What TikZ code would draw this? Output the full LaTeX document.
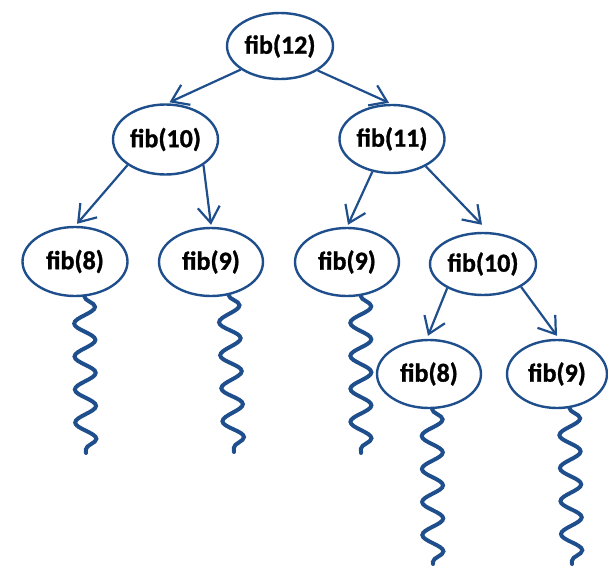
\documentclass[tikz,border=0pt]{standalone}
\usepackage{fontspec}
\setmainfont{Carlito}[BoldFeatures={FakeBold=1.2}]
\usetikzlibrary{shapes.geometric,arrows.meta,decorations.pathmorphing}
\definecolor{fibblue}{HTML}{1F4E8C}
\begin{document}
\begin{tikzpicture}[x=1pt,y=1pt,
  fibnode/.style={ellipse, draw=fibblue, line width=2.4pt, inner sep=0pt,
    font=\fontsize{26}{30}\selectfont\bfseries, text=black},
  callarrow/.style={draw=fibblue, line width=2.2pt,
    -{Straight Barb[length=16pt,width=22pt]}},
  squig/.style={draw=fibblue, line width=4pt, line cap=round, decorate,
    decoration={snake, amplitude=10.5pt, segment length=33pt}}]
\useasboundingbox (0,0) rectangle (608,-567);

% nodes
\node[fibnode, minimum width=106pt, minimum height=66pt] (n12)  at (280,-46)   {fib(12)};
\node[fibnode, minimum width=105pt, minimum height=70pt] (n10a) at (165.5,-139.5) {fib(10)};
\node[fibnode, minimum width=105pt, minimum height=68pt] (n11)  at (392,-139)  {fib(11)};
\node[fibnode, minimum width=105pt, minimum height=69pt] (n8a)  at (75,-261.5) {fib(8)};
\node[fibnode, minimum width=104pt, minimum height=68pt] (n9a)  at (211,-262)  {fib(9)};
\node[fibnode, minimum width=104pt, minimum height=68pt] (n9b)  at (347,-262)  {fib(9)};
\node[fibnode, minimum width=106pt, minimum height=62pt] (n10b) at (483,-264)  {fib(10)};
\node[fibnode, minimum width=104pt, minimum height=68pt] (n8b)  at (429,-374)  {fib(8)};
\node[fibnode, minimum width=100pt, minimum height=68pt] (n9c)  at (557,-374)  {fib(9)};

% call arrows
\draw[callarrow] (n12.211)  -- ([xshift=4pt,yshift=1pt]n10a.north);
\draw[callarrow] (n12.327)  -- ([xshift=-3pt,yshift=1pt]n11.north);
\draw[callarrow] (n10a.214) -- ([xshift=2pt,yshift=2pt]n8a.north);
\draw[callarrow] (n10a.326) -- ([yshift=2pt]n9a.north);
\draw[callarrow] (n11.239)  -- ([xshift=1pt,yshift=2pt]n9b.north);
\draw[callarrow] (n11.321)  -- ([xshift=-1pt,yshift=7pt]n10b.north);
\draw[callarrow] (n10b.214) -- ([xshift=-1pt,yshift=3pt]n8b.north);
\draw[callarrow] (n10b.329) -- ([yshift=3pt]n9c.north);

% unfinished recursion
\coordinate (e1) at (86,-453);
\coordinate (e2) at (234,-452);
\coordinate (e3) at (361,-453);
\coordinate (e4) at (433,-564);
\coordinate (e5) at (572,-564);
\draw[squig] (n8a.285) -- (e1);
\draw[squig] (n9a.298) -- (e2);
\draw[squig] (n9b.292) -- (e3);
\draw[squig] (n8b.275) -- (e4);
\draw[squig] (n9c.290) -- (e5);
\end{tikzpicture}
\end{document}
